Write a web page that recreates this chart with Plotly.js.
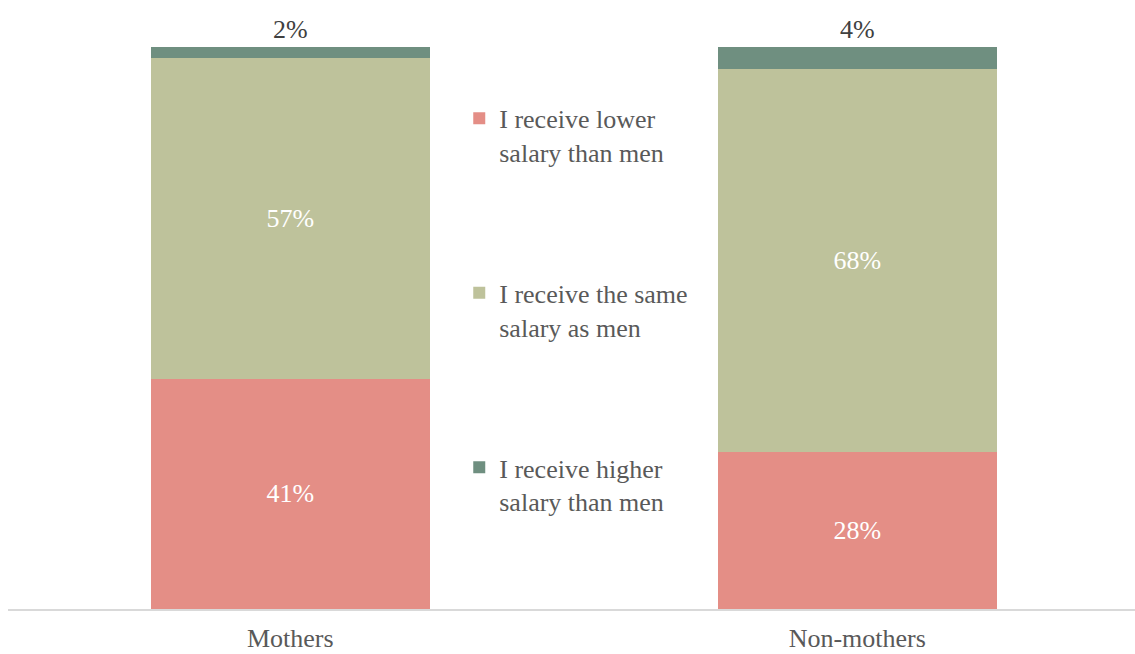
<!DOCTYPE html>
<html>
<head>
<meta charset="utf-8">
<script src="https://cdn.plot.ly/plotly-3.0.1.min.js"></script>
<style>
html,body{margin:0;padding:0;background:#fff;}
#chart{width:1135px;height:654px;}
</style>
</head>
<body>
<div id="chart"></div>
<script>
var categories = ["Mothers", "Non-mothers"];
var lowerSalary = [41, 28];
var sameSalary = [57, 68];
var higherSalary = [2, 4];
var seriesNames = ["I receive lower<br>salary than men", "I receive the same<br>salary as men", "I receive higher<br>salary than men"];

function pct(arr){ return arr.map(function(v){ return v + "%"; }); }

var font = "Liberation Serif, Times New Roman, serif";
var fs = 26;
var traces = [
  {type:"bar", x:categories, y:lowerSalary, name:seriesNames[0], legendgroup:"a",
   marker:{color:"#E48E86"}, text:pct(lowerSalary), textposition:"inside", insidetextanchor:"middle",
   textfont:{color:"#ffffff", size:fs, family:font}, width:0.492, hoverinfo:"skip"},
  {type:"bar", x:categories, y:sameSalary, name:seriesNames[1], legendgroup:"b",
   marker:{color:"#BEC29B"}, text:pct(sameSalary), textposition:"inside", insidetextanchor:"middle",
   textfont:{color:"#ffffff", size:fs, family:font}, width:0.492, hoverinfo:"skip"},
  {type:"bar", x:categories, y:higherSalary, name:seriesNames[2], legendgroup:"c",
   marker:{color:"#6F8F80"}, text:pct(higherSalary), textposition:"outside", cliponaxis:false,
   textfont:{color:"#404040", size:fs, family:font}, width:0.492, hoverinfo:"skip"}
];

var layout = {
  width:1135, height:654,
  margin:{l:8, r:0, t:47, b:45},
  barmode:"stack",
  paper_bgcolor:"#fff", plot_bgcolor:"#fff",
  font:{family:font, color:"#595959", size:fs},
  xaxis:{range:[-0.498, 1.49], showline:true, linecolor:"#D9D9D9", linewidth:1.5, ticklabelstandoff:5,
         ticks:"", tickfont:{size:fs, color:"#595959", family:font}, showgrid:false, zeroline:false, fixedrange:true},
  yaxis:{range:[0,100], visible:false, showgrid:false, zeroline:false, fixedrange:true},
  showlegend:true,
  legend:{x:0.4004, xanchor:"left", y:0.915, yanchor:"top", traceorder:"grouped", tracegroupgap:104,
          valign:"top", bgcolor:"rgba(0,0,0,0)", font:{size:fs, color:"#595959", family:font}},
  uniformtext:{mode:false}
};

Plotly.newPlot("chart", traces, layout, {displayModeBar:false, staticPlot:true});
</script>
</body>
</html>
